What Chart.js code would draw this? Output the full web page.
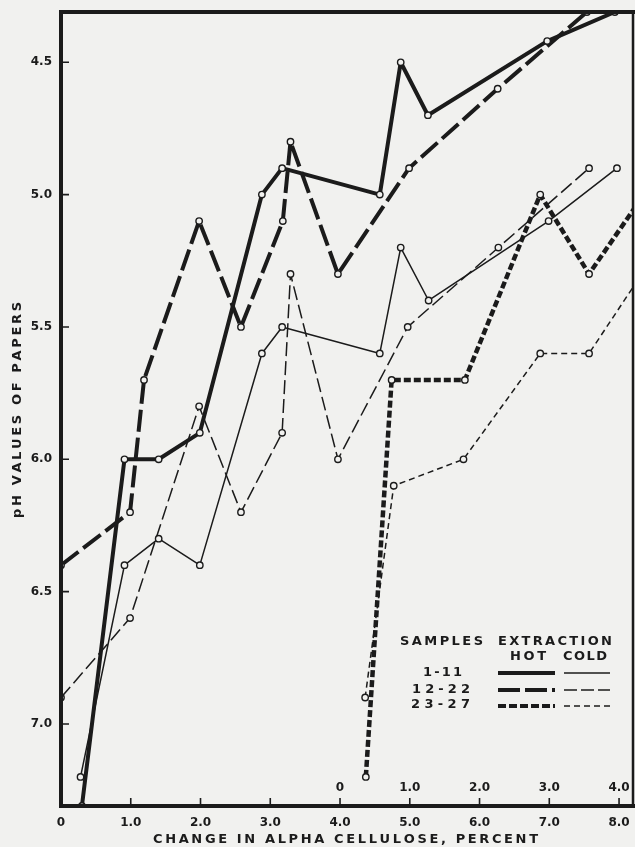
<!DOCTYPE html>
<html>
<head>
<meta charset="utf-8">
<script src="https://cdn.jsdelivr.net/npm/chart.js@4.4.1/dist/chart.umd.min.js"></script>
<style>
  html, body { margin: 0; padding: 0; background: #f1f1ef; }
  #wrap { width: 635px; height: 847px; }
</style>
</head>
<body>
<div id="wrap"><canvas id="myChart" width="635" height="847"></canvas></div>
<script>
// samples 1-11 and 12-22 use the main axis (0 - 8.0)
const hot1x = [0.3, 0.91, 1.4, 1.99, 2.88, 3.17, 4.57, 4.87, 5.26, 6.97, 7.94];
const hot1y = [7.31, 6.0, 6.0, 5.9, 5.0, 4.9, 5.0, 4.5, 4.7, 4.42, 4.31];
const cold1x = [0.28, 0.91, 1.4, 1.99, 2.88, 3.17, 4.57, 4.87, 5.27, 6.99, 7.97];
const cold1y = [7.2, 6.4, 6.3, 6.4, 5.6, 5.5, 5.6, 5.2, 5.4, 5.1, 4.9];

const hot2x = [0, 0.99, 1.19, 1.98, 2.58, 3.18, 3.29, 3.97, 4.99, 6.26, 7.54];
const hot2y = [6.4, 6.2, 5.7, 5.1, 5.5, 5.1, 4.8, 5.3, 4.9, 4.6, 4.31];
const cold2x = [0, 0.99, 1.98, 2.58, 3.17, 3.29, 3.97, 4.97, 6.27, 7.57];
const cold2y = [6.9, 6.6, 5.8, 6.2, 5.9, 5.3, 6.0, 5.5, 5.2, 4.9];

// samples 23-27 use the inner axis (0 - 4.0, starting at 4.0 of the main one)
const hot3x = [0.37, 0.74, 1.79, 2.87, 3.57, 4.25];
const hot3y = [7.2, 5.7, 5.7, 5.0, 5.3, 5.04];
const cold3x = [0.36, 0.77, 1.77, 2.87, 3.57, 4.25];
const cold3y = [6.9, 6.1, 6.0, 5.6, 5.6, 5.33];

const xTicks = [0, 1, 2, 3, 4, 5, 6, 7, 8];
const xTickLabels = ["0", "1.0", "2.0", "3.0", "4.0", "5.0", "6.0", "7.0", "8.0"];
const x2Ticks = [0, 1, 2, 3, 4];
const x2TickLabels = ["0", "1.0", "2.0", "3.0", "4.0"];
const yTicks = [4.5, 5.0, 5.5, 6.0, 6.5, 7.0];

const INK = "#1b1b1b";
const BG = "#f1f1ef";
const FONT = "DejaVu Sans";

function pts(xs, ys) {
  return xs.map((x, i) => ({ x: x, y: ys[i] }));
}

function series(label, xs, ys, width, dash, axis) {
  return {
    label: label,
    data: pts(xs, ys),
    xAxisID: axis || "x",
    borderColor: INK,
    borderWidth: width,
    borderDash: dash,
    borderCapStyle: "butt",
    borderJoinStyle: "round",
    tension: 0,
    pointRadius: 3.2,
    pointBorderWidth: 1.4,
    pointBorderColor: INK,
    pointBackgroundColor: BG
  };
}

// draw a word with its letters spread over a given width
function spaced(ctx, text, left, y, width) {
  const chars = text.split("");
  const total = chars.reduce((s, c) => s + ctx.measureText(c).width, 0);
  const gap = chars.length > 1 ? (width - total) / (chars.length - 1) : 0;
  let x = left;
  ctx.textAlign = "left";
  chars.forEach(c => {
    ctx.fillText(c, x, y);
    x += ctx.measureText(c).width + gap;
  });
}

const paperPlugin = {
  id: "paper",
  beforeDraw(chart) {
    const ctx = chart.ctx;
    ctx.save();
    ctx.fillStyle = BG;
    ctx.fillRect(0, 0, chart.width, chart.height);
    ctx.restore();
  },
  afterDraw(chart) {
    const ctx = chart.ctx;
    const a = chart.chartArea;
    const xs = chart.scales.x, x2 = chart.scales.x2, ys = chart.scales.y;
    ctx.save();
    ctx.strokeStyle = INK;
    ctx.fillStyle = INK;
    ctx.setLineDash([]);

    // frame
    ctx.lineCap = "square";
    ctx.lineWidth = 4;
    ctx.beginPath();
    ctx.moveTo(a.left, a.bottom); ctx.lineTo(a.left, a.top); ctx.lineTo(a.right, a.top);
    ctx.moveTo(a.left, a.bottom); ctx.lineTo(a.right, a.bottom);
    ctx.stroke();
    ctx.lineWidth = 2.5;
    ctx.beginPath();
    ctx.moveTo(a.right, a.top); ctx.lineTo(a.right, a.bottom);
    ctx.stroke();

    // inward tick marks
    ctx.lineCap = "butt";
    ctx.lineWidth = 1.6;
    ctx.beginPath();
    xTicks.forEach(v => {
      const px = xs.getPixelForValue(v);
      ctx.moveTo(px, a.bottom); ctx.lineTo(px, a.bottom - 8);
    });
    yTicks.forEach(v => {
      const py = ys.getPixelForValue(v);
      ctx.moveTo(a.left, py); ctx.lineTo(a.left + 8, py);
    });
    ctx.stroke();

    // inner scale labels for samples 23-27
    ctx.font = "bold 12px '" + FONT + "'";
    ctx.textAlign = "center";
    ctx.textBaseline = "middle";
    x2Ticks.forEach((v, i) => {
      ctx.fillText(x2TickLabels[i], x2.getPixelForValue(v), a.bottom - 18);
    });

    // axis titles
    ctx.font = "bold 13px '" + FONT + "'";
    spaced(ctx, "CHANGE IN ALPHA CELLULOSE, PERCENT", 153, 840, 385);
    ctx.save();
    ctx.translate(18, 410);
    ctx.rotate(-Math.PI / 2);
    spaced(ctx, "pH VALUES OF PAPERS", -108, 0, 216);
    ctx.restore();

    // legend
    ctx.font = "bold 13px '" + FONT + "'";
    spaced(ctx, "SAMPLES", 400, 642, 83);
    spaced(ctx, "EXTRACTION", 498, 642, 114);
    spaced(ctx, "HOT", 510, 657, 36);
    spaced(ctx, "COLD", 563, 657, 44);
    spaced(ctx, "1-11", 423, 673, 39);
    spaced(ctx, "12-22", 412, 690, 58);
    spaced(ctx, "23-27", 411, 705, 59);

    const rows = [
      { y: 673, hot: [], cold: [] },
      { y: 690, hot: [22, 5], cold: [13, 4] },
      { y: 706, hot: [8, 3], cold: [6, 4] }
    ];
    rows.forEach(r => {
      ctx.lineWidth = 4;
      ctx.setLineDash(r.hot);
      ctx.beginPath(); ctx.moveTo(498, r.y); ctx.lineTo(555, r.y); ctx.stroke();
      ctx.lineWidth = 1.5;
      ctx.setLineDash(r.cold);
      ctx.beginPath(); ctx.moveTo(564, r.y); ctx.lineTo(610, r.y); ctx.stroke();
    });
    ctx.restore();
  }
};

const ctx = document.getElementById("myChart");

new Chart(ctx, {
  type: "line",
  data: {
    datasets: [
      series("1-11 hot", hot1x, hot1y, 4, []),
      series("12-22 hot", hot2x, hot2y, 4, [22, 6]),
      series("23-27 hot", hot3x, hot3y, 4.5, [7, 3], "x2"),
      series("1-11 cold", cold1x, cold1y, 1.5, []),
      series("12-22 cold", cold2x, cold2y, 1.5, [14, 5]),
      series("23-27 cold", cold3x, cold3y, 1.5, [6, 4], "x2")
    ]
  },
  options: {
    responsive: false,
    animation: false,
    layout: { autoPadding: false, padding: { top: 12, right: 2, left: 0, bottom: 0 } },
    plugins: { legend: { display: false }, tooltip: { enabled: false } },
    scales: {
      x: {
        type: "linear",
        min: 0,
        max: 8.2,
        grid: { display: false, drawTicks: false },
        border: { display: false },
        afterBuildTicks: s => { s.ticks = xTicks.map(v => ({ value: v })); },
        afterFit: s => { s.height = 41; s.paddingLeft = 0; s.paddingRight = 0; },
        ticks: {
          padding: 10,
          color: INK,
          font: { family: FONT, size: 12, weight: "bold" },
          maxRotation: 0,
          callback: (v) => xTickLabels[xTicks.indexOf(v)]
        }
      },
      x2: {
        type: "linear",
        display: false,
        min: -4,
        max: 4.2
      },
      y: {
        type: "linear",
        reverse: true,
        min: 4.31,
        max: 7.31,
        grid: { display: false, drawTicks: false },
        border: { display: false },
        afterBuildTicks: s => { s.ticks = yTicks.map(v => ({ value: v })); },
        afterFit: s => { s.width = 61; s.paddingTop = 0; s.paddingBottom = 0; },
        ticks: {
          padding: 9,
          color: INK,
          font: { family: FONT, size: 12, weight: "bold" },
          callback: (v) => v.toFixed(1)
        }
      }
    }
  },
  plugins: [paperPlugin]
});
</script>
</body>
</html>
